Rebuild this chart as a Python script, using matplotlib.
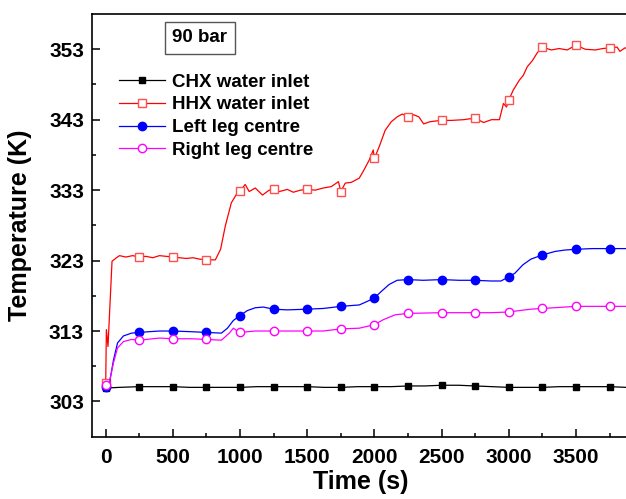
import matplotlib
matplotlib.use('Agg')
import matplotlib.pyplot as plt

plt.rcParams['font.family'] = ['Liberation Sans', 'DejaVu Sans']
plt.rcParams['font.weight'] = 'bold'

# time (s) and temperature (K)
chx_t = [0, 100, 250, 375, 500, 625, 750, 875, 1000, 1125, 1250, 1375, 1500, 1625,
         1750, 1875, 2000, 2125, 2250, 2375, 2500, 2625, 2750, 2875, 3000, 3125,
         3250, 3375, 3500, 3625, 3750, 3875, 4000]
chx_T = [304.9, 305.0, 305.1, 305.1, 305.1, 305.0, 305.0, 305.0, 305.0, 305.1, 305.1,
         305.1, 305.1, 305.0, 305.0, 305.1, 305.1, 305.1, 305.2, 305.2, 305.3, 305.3,
         305.2, 305.1, 305.0, 305.0, 305.0, 305.1, 305.1, 305.1, 305.1, 305.0, 305.0]

hhx_t = [0, 5, 17, 47, 80, 103, 150, 200, 250, 300, 350, 400, 450, 500, 550, 600,
         650, 700, 750, 816, 855, 890, 935, 979, 1000, 1038, 1068, 1113, 1167, 1217,
         1250, 1292, 1352, 1396, 1450, 1500, 1560, 1619, 1679, 1732, 1750, 1783, 1827,
         1887, 1923, 1962, 1991, 2000, 2036, 2080, 2125, 2169, 2207, 2250, 2292, 2331,
         2366, 2411, 2450, 2500, 2574, 2663, 2700, 2750, 2812, 2871, 2930, 2960, 2983,
         3000, 3033, 3078, 3108, 3137, 3176, 3212, 3250, 3316, 3375, 3435, 3500, 3568,
         3643, 3700, 3750, 3806, 3827, 3865, 3900, 4000]
hhx_T = [305.6, 313.2, 310.8, 322.9, 323.4, 323.7, 323.5, 323.7, 323.5, 323.6, 323.4,
         323.7, 323.6, 323.5, 323.4, 323.3, 323.4, 323.2, 323.1, 323.1, 324.6, 327.9,
         331.2, 332.6, 332.9, 333.8, 332.8, 333.3, 332.3, 333.0, 333.1, 332.8, 333.1,
         332.7, 333.0, 333.1, 333.0, 333.3, 333.5, 334.2, 332.8, 334.0, 334.1, 334.7,
         335.9, 337.3, 338.7, 337.5, 339.2, 341.5, 342.7, 343.4, 343.8, 343.4, 343.7,
         343.4, 342.4, 342.7, 342.8, 342.9, 342.9, 343.0, 343.1, 343.2, 342.6, 343.0,
         343.0, 345.3, 344.8, 345.8, 347.2, 348.6, 349.3, 350.5, 351.4, 352.5, 353.3,
         352.9, 353.1, 352.9, 353.6, 353.0, 352.9, 353.1, 353.2, 353.3, 352.7, 353.2,
         353.0, 353.1]

left_t = [0, 28, 58, 88, 132, 192, 250, 320, 401, 500, 640, 750, 861, 906, 950, 1000,
          1054, 1113, 1173, 1250, 1352, 1500, 1619, 1750, 1887, 1946, 2000, 2050, 2109,
          2169, 2250, 2362, 2500, 2630, 2750, 2867, 2942, 3000, 3045, 3105, 3164, 3250,
          3345, 3420, 3500, 3620, 3750, 3880, 4000]
left_T = [305.0, 305.6, 308.9, 311.3, 312.3, 312.7, 312.8, 312.9, 313.0, 313.0, 312.9,
          312.8, 312.7, 313.4, 314.5, 315.2, 315.9, 316.3, 316.4, 316.1, 316.0, 316.1,
          316.2, 316.5, 316.7, 317.2, 317.7, 318.6, 319.6, 320.2, 320.3, 320.2, 320.3,
          320.2, 320.2, 320.1, 320.1, 320.7, 321.2, 322.4, 323.2, 323.8, 324.3, 324.5,
          324.6, 324.7, 324.7, 324.7, 324.7]

right_t = [0, 28, 58, 88, 132, 192, 250, 401, 500, 640, 750, 861, 920, 950, 979, 1000,
           1113, 1250, 1500, 1619, 1750, 1887, 2000, 2065, 2154, 2250, 2500, 2750, 2867,
           3000, 3078, 3164, 3250, 3500, 3750, 4000]
right_T = [305.4, 305.8, 308.5, 310.6, 311.5, 311.8, 311.7, 312.0, 311.9, 311.9, 311.8,
           311.7, 312.7, 313.4, 313.0, 312.8, 313.0, 313.0, 313.0, 313.0, 313.3, 313.4,
           313.9, 314.6, 315.3, 315.5, 315.6, 315.6, 315.6, 315.7, 315.9, 316.1, 316.2,
           316.5, 316.5, 316.5]


def marks(times):
    # a marker every 250 s
    return [i for i, t in enumerate(times) if t % 250 == 0]


fig = plt.figure(figsize=(6.26, 4.99), dpi=100)
# the right end of the axes runs past the picture edge, as in the source
ax = fig.add_axes([0.1474, 0.1249, 0.859, 0.847])

ax.plot(chx_t, chx_T, color='black', lw=0.9, marker='s', ms=5,
        markevery=marks(chx_t), label='CHX water inlet')
ax.plot(hhx_t, hhx_T, color='red', lw=0.9, marker='s', ms=5.5, mfc='white',
        mec='#ff5050', mew=1, markevery=marks(hhx_t), label='HHX water inlet')
ax.plot(left_t, left_T, color='blue', lw=0.9, marker='o', ms=6,
        markevery=marks(left_t), label='Left leg centre')
ax.plot(right_t, right_T, color='magenta', lw=0.9, marker='o', ms=6, mfc='white',
        mec='magenta', mew=1, markevery=marks(right_t), label='Right leg centre')

ax.set_xlim(-100, 3902)
ax.set_ylim(298, 358)
ax.set_xticks(range(0, 3901, 500))
ax.set_xticks(range(250, 3901, 500), minor=True)
ax.set_yticks(range(303, 354, 10))
ax.set_yticks(range(308, 349, 10), minor=True)
ax.tick_params(which='both', direction='in', width=1.1, labelsize=15)
ax.tick_params(which='major', length=5.5)
ax.tick_params(which='minor', length=3)
ax.tick_params(axis='x', pad=8)
ax.tick_params(axis='y', pad=6)
for s in ax.spines.values():
    s.set_linewidth(1.2)

ax.set_xlabel('Time (s)', fontsize=18, fontweight='bold', labelpad=2)
ax.set_ylabel('Temperature (K)', fontsize=18, fontweight='bold', labelpad=12)

ax.text(0.2, 0.944, '90 bar', transform=ax.transAxes, fontsize=13.5,
        fontweight='bold', ha='center', va='center',
        bbox=dict(boxstyle='square,pad=0.4', fc='white', ec='#555555', lw=1))

ax.legend(loc='upper left', bbox_to_anchor=(0.05, 0.859), frameon=False,
          fontsize=13.5, handlelength=2.45, handletextpad=0.35, labelspacing=0.3,
          borderaxespad=0, borderpad=0)

fig.savefig('out.png', dpi=100)
